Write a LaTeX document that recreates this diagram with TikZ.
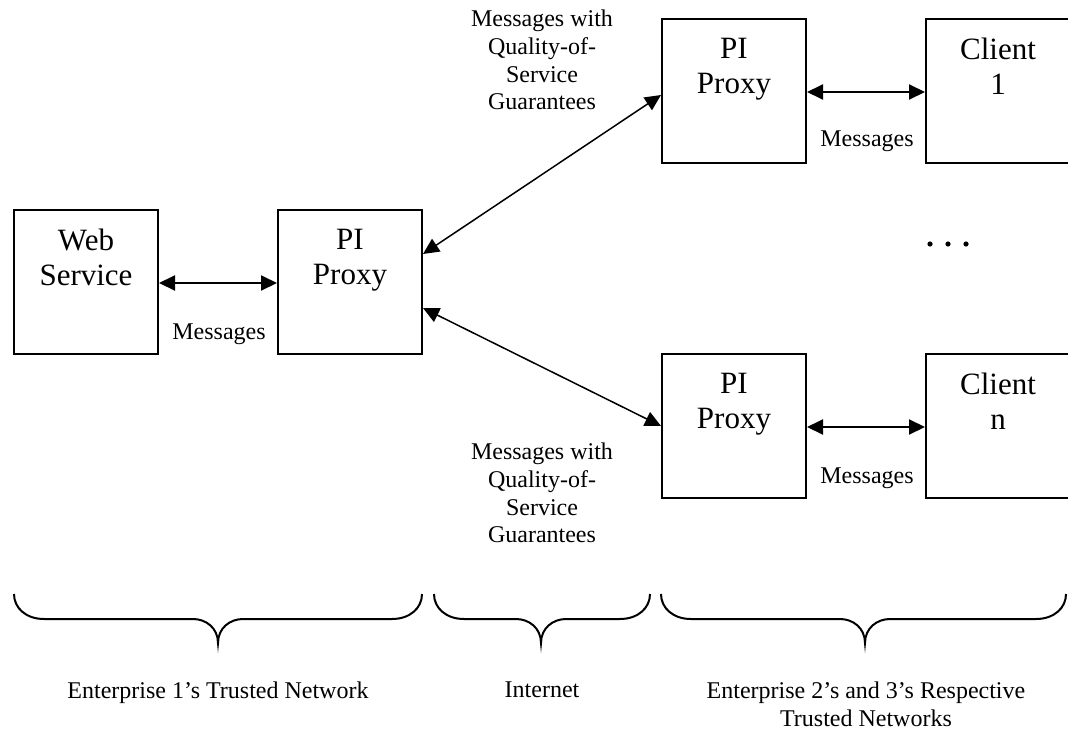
\documentclass[tikz,border=0pt]{standalone}
\usepackage{fontspec}
\setmainfont{Liberation Serif}
\usetikzlibrary{arrows.meta}

% curly brace under a network zone: left end, cusp, right end
\newcommand\netbrace[3]{%
  \draw[bracepath] (#1,594) .. controls (#1,608) and ({#1+12},619) .. ({#1+30},619)
    -- ({#2-25},619) .. controls ({#2-12},619) and (#2,628) .. (#2,643)
    .. controls (#2,628) and ({#2+12},619) .. ({#2+25},619)
    -- ({#3-30},619) .. controls ({#3-12},619) and (#3,608) .. (#3,594);}

\begin{document}
\begin{tikzpicture}[x=1pt,y=-1pt,
  box/.style={draw, line width=2pt, minimum width=144pt, minimum height=144pt, inner sep=0pt},
  boxtext/.style={anchor=north, yshift=-19.5pt, font=\fontsize{31}{35.5}\selectfont, align=center, inner sep=0pt},
  small/.style={font=\fontsize{24}{27.8}\selectfont, inner sep=0pt},
  note/.style={small, align=center, anchor=north},
  link/.style={{Triangle[length=16pt,width=15pt]}-{Triangle[length=16pt,width=15pt]}, line width=2pt},
  wan/.style={{Triangle[length=16pt,width=15pt]}-{Triangle[length=16pt,width=15pt]}, line width=1.5pt},
  bracepath/.style={line width=2pt}]
\useasboundingbox (0,0) rectangle (1068,734);

% enterprise 1
\node[box, label={[boxtext]north:{Web\\Service}}] (ws) at (86,282) {};
\node[box, label={[boxtext]north:{PI\\Proxy}}] (pp) at (350,282) {};

% enterprises 2 and 3
\node[box, label={[boxtext]north:{PI\\Proxy}}] (tp) at (734,91) {};
\node[box, label={[boxtext]north:{Client\\1}}] (c1) at (998,91) {};
\node[box, label={[boxtext]north:{PI\\Proxy}}] (bp) at (734,426) {};
\node[box, label={[boxtext]north:{Client\\n}}] (cn) at (998,426) {};

% local message links
\draw[link] ([yshift=-1pt]ws.east) -- ([yshift=-1pt]pp.west);
\draw[link] ([yshift=-1pt]tp.east) -- ([yshift=-1pt]c1.west);
\draw[link] ([yshift=-1pt]bp.east) -- ([yshift=-1pt]cn.west);
\node[small, anchor=base] (m1) at (219,339) {Messages};
\node[small, anchor=base] (m2) at (867,146) {Messages};
\node[small, anchor=base] (m3) at (867,483) {Messages};

% links across the internet
\draw[wan] ([yshift=28pt]pp.east) -- ([yshift=-4pt]tp.west);
\draw[wan] ([yshift=-26pt]pp.east) -- (bp.west);
\node[note] (q1) at (542,9.6) {Messages with\\Quality-of-\\Service\\Guarantees};
\node[note] (q2) at (542,442.6) {Messages with\\Quality-of-\\Service\\Guarantees};

% more clients
\fill (930,244) circle (2.6pt) (948,244) circle (2.6pt) (966,244) circle (2.6pt);

% network zones
\netbrace{14}{218}{422}
\netbrace{434}{541}{650}
\netbrace{661}{865}{1066}
\node[note] (z1) at (218,681.6) {Enterprise 1’s Trusted Network};
\node[note] (z2) at (542,681.6) {Internet};
\node[note] (z3) at (866,681.6) {Enterprise 2’s and 3’s Respective\\Trusted Networks};
\end{tikzpicture}
\end{document}
